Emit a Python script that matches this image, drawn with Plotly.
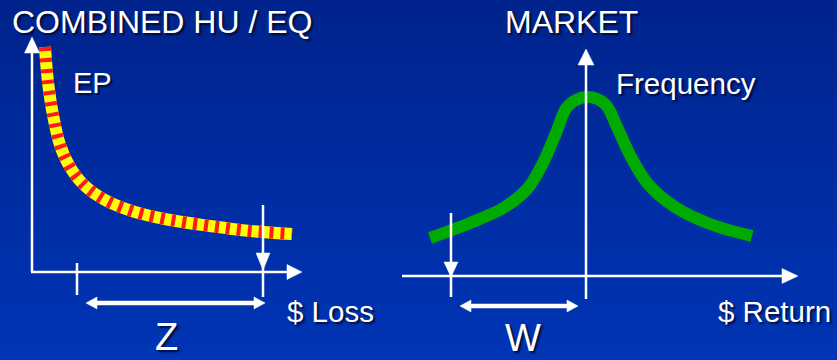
import plotly.graph_objects as go

# ---- data ----
ep_x = [45, 48, 53, 60, 70, 84, 105, 135, 170, 210, 250, 292]
ep_y = [47, 82, 115, 145, 167, 185, 200, 212, 220, 226, 231, 234]

mkt_x = [430, 470, 505, 528, 543, 556, 568, 587, 605, 617, 630, 648, 675, 710, 752]
mkt_y = [238, 223, 207, 188, 163, 133, 106, 97, 104, 127, 155, 184, 207, 224, 236]

titles = ["COMBINED HU / EQ", "MARKET"]
curve_labels = ["EP", "Frequency"]
axis_labels = ["$ Loss", "$ Return"]
gap_labels = ["Z", "W"]

W, H = 837, 360
FONT = "Liberation Sans, Arial, sans-serif"
SHADOW = "2px 2px 2px rgba(0,0,20,0.75)"

fig = go.Figure()

# EP curve: yellow base with red stripes
fig.add_trace(go.Scatter(x=ep_x, y=ep_y, mode="lines",
                         line=dict(color="#ffff00", width=12, shape="spline", smoothing=1.0),
                         hoverinfo="skip", showlegend=False))
fig.add_trace(go.Scatter(x=ep_x, y=ep_y, mode="lines",
                         line=dict(color="#ff1a1a", width=12, shape="spline", smoothing=1.0,
                                   dash="4px,7px"),
                         hoverinfo="skip", showlegend=False))
# Market curve
fig.add_trace(go.Scatter(x=mkt_x, y=mkt_y, mode="lines",
                         line=dict(color="#00aa00", width=12, shape="spline", smoothing=1.0),
                         hoverinfo="skip", showlegend=False))

shapes = []
# gradient background
n = 72
top = (0, 35, 140)
bot = (0, 53, 182)
for i in range(n):
    t = i / (n - 1)
    c = tuple(int(round(top[k] + (bot[k] - top[k]) * t)) for k in range(3))
    shapes.append(dict(type="rect", xref="paper", yref="paper", x0=0, x1=1,
                       y0=1 - (i + 1) / n, y1=1 - i / n + 0.001,
                       fillcolor=f"rgb{c}", line=dict(width=0), layer="below"))

def line(x0, y0, x1, y1, w=2.5):
    shapes.append(dict(type="line", x0=x0, y0=y0, x1=x1, y1=y1,
                       line=dict(color="white", width=w), layer="above"))

def tri(p1, p2, p3):
    shapes.append(dict(type="path",
                       path=f"M {p1[0]},{p1[1]} L {p2[0]},{p2[1]} L {p3[0]},{p3[1]} Z",
                       fillcolor="white", line=dict(color="white", width=0.5), layer="above"))

# Left panel axes
line(32, 50, 32, 272)
tri((32, 37), (24.5, 53), (39.5, 53))
line(31, 272, 288, 272)
tri((302, 272), (287, 264.5), (287, 279.5))
# Left markers
line(77, 263, 77, 295)
line(263, 205, 263, 297)
tri((263, 270), (256, 253), (270, 253))
# Z double arrow
line(95, 303, 256, 303, w=4.5)
tri((86, 303), (97, 297), (97, 309))
tri((265, 303), (254, 297), (254, 309))

# Right panel axes
line(586, 63, 586, 299)
tri((586, 49), (578, 65), (594, 65))
line(402, 276, 784, 276)
tri((798, 276), (782, 268.5), (782, 283.5))
# Right marker
line(451, 213, 451, 297)
tri((451, 277), (444, 262), (458, 262))
# W double arrow
line(469, 306, 570, 306, w=4.5)
tri((460, 306), (471, 300), (471, 312))
tri((578, 306), (567, 300), (567, 312))

annotations = []
def text(s, x, y, size, xanchor="left"):
    annotations.append(dict(text=s, x=x, y=y, xanchor=xanchor, yanchor="middle",
                            showarrow=False,
                            font=dict(family=FONT, size=size, color="white", shadow=SHADOW)))

text(titles[0], 10, 22, 32)
text(titles[1], 571, 22, 32, xanchor="center")
text(curve_labels[0], 71, 83, 29)
text(curve_labels[1], 614, 83, 29.5)
text(axis_labels[0], 285, 311, 29.5)
text(axis_labels[1], 716, 311, 29.5)
text(gap_labels[0], 166, 337, 38, xanchor="center")
text(gap_labels[1], 523, 338, 38, xanchor="center")

fig.update_layout(
    width=W, height=H,
    margin=dict(l=0, r=0, t=0, b=0),
    paper_bgcolor="#0029a0", plot_bgcolor="rgba(0,0,0,0)",
    xaxis=dict(range=[0, W], visible=False, fixedrange=True),
    yaxis=dict(range=[H, 0], visible=False, fixedrange=True),
    shapes=shapes, annotations=annotations,
    showlegend=False,
)

fig.write_html("out.html")
